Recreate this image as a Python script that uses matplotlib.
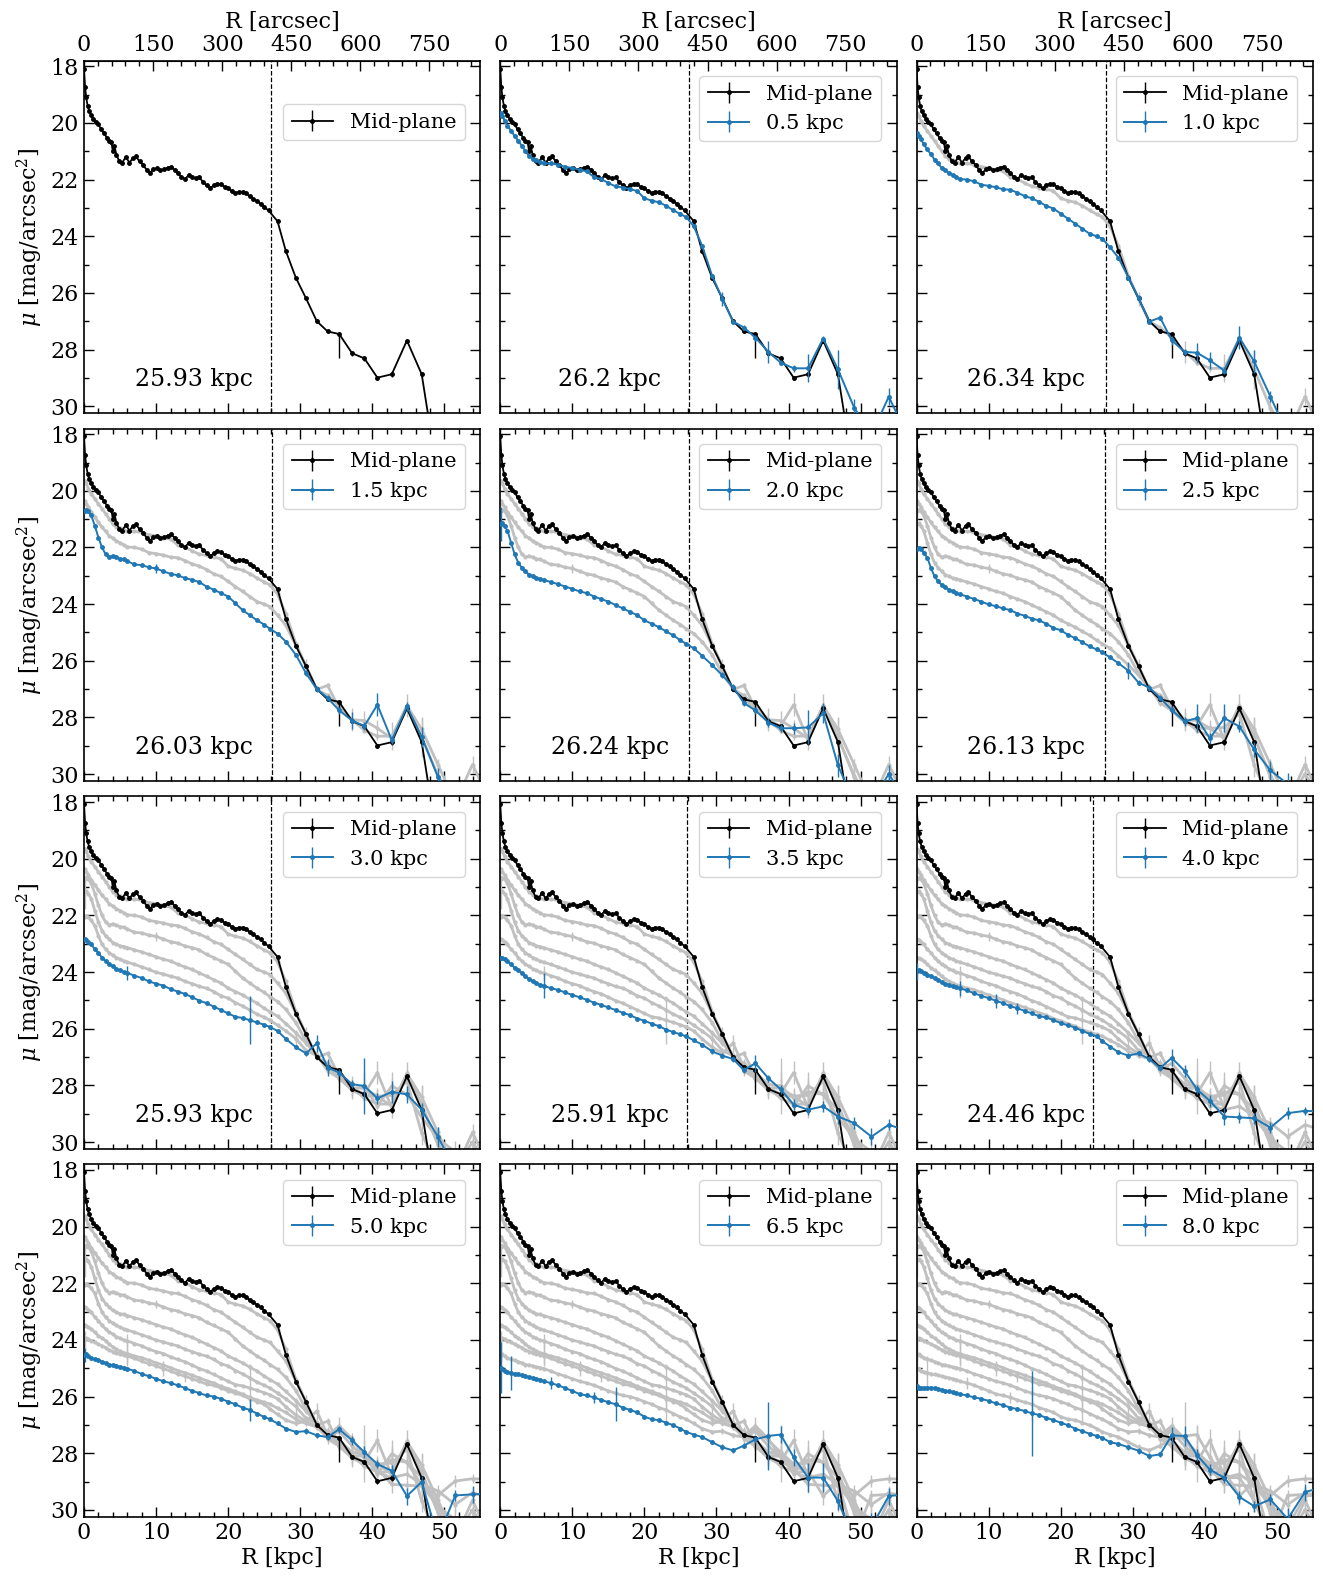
import numpy as np
import matplotlib
matplotlib.use("Agg")
import matplotlib.pyplot as plt
from matplotlib.ticker import MultipleLocator

plt.rcParams['font.family'] = 'serif'
plt.rcParams['font.serif'] = ['DejaVu Serif']
plt.rcParams['mathtext.fontset'] = 'dejavuserif'
plt.rcParams['xtick.direction'] = 'in'
plt.rcParams['ytick.direction'] = 'in'

KPC_PER_ARCSEC = 0.0639

# mid-plane profile (inner, densely sampled)
R_MID = [0.0, 0.15, 0.3, 0.5, 0.7, 1.0, 1.3, 1.6, 2.0, 2.4, 2.8, 3.2, 3.5, 3.8, 4.0,
         4.2, 4.5, 4.9, 5.3, 5.8, 6.3, 6.8, 7.2, 7.7, 8.2, 8.7, 9.1, 9.6, 10.1, 10.6,
         11.1, 11.6, 12.1, 12.6, 13.0, 13.5, 14.0, 14.5, 15.0, 15.5, 16.0, 16.5, 17.0,
         17.5, 18.0, 18.5, 19.0, 19.5, 20.0, 20.5, 21.0, 21.5, 22.0, 22.5, 23.0, 23.5,
         24.0, 24.5, 25.0, 25.6]
MU_MID = [18.08, 18.74, 19.1, 19.39, 19.57, 19.73, 19.87, 19.97, 20.05, 20.23, 20.37,
          20.53, 20.65, 20.68, 21.0, 20.8, 21.12, 21.36, 21.4, 21.2, 21.4, 21.24, 21.18,
          21.36, 21.48, 21.66, 21.78, 21.64, 21.6, 21.66, 21.64, 21.58, 21.54, 21.66,
          21.78, 21.9, 21.99, 21.84, 21.92, 21.96, 21.92, 22.08, 22.2, 22.31, 22.2, 22.14,
          22.16, 22.26, 22.31, 22.4, 22.47, 22.43, 22.43, 22.49, 22.59, 22.67, 22.76,
          22.85, 22.97, 23.09]

# outer radii (shared by all profiles)
R_OUT = [26.85, 28.0, 29.4, 30.8, 32.3, 33.8, 35.4, 37.2, 38.9, 40.7, 42.7, 44.8,
         46.85, 49.1, 51.5, 53.9, 56.4]
MU_MID_OUT = [23.47, 24.52, 25.47, 26.19, 27.0, 27.36, 27.45, 28.13, 28.31, 28.99,
              28.87, 27.68, 28.87, 32.5, np.nan, np.nan, np.nan]
ERR_MID_UP = [0.03, 0.03, 0.03, 0.05, 0.05, 0.05, 0.85, 0.08, 0.08, 0.1, 0.1, 0.1,
              0.1, 0.1, 0.1, 0.1, 0.1]

# inner radii for the off-plane profiles
R_IN = [0.1, 0.3, 0.6, 1, 1.5, 2, 2.5, 3, 3.5, 4, 4.5, 5, 5.5, 6, 7, 8, 9, 10, 11, 12,
        13, 14, 15, 16, 17, 18, 19, 20, 21, 22, 23, 24, 25, 25.8]

HEIGHTS = ["0.5", "1.0", "1.5", "2.0", "2.5", "3.0", "3.5", "4.0", "5.0", "6.5", "8.0"]

MU_05 = [19.64, 19.74, 19.92, 20.1, 20.28, 20.46, 20.63, 20.81, 20.99, 21.17, 21.27, 21.31,
         21.38, 21.43, 21.43, 21.47, 21.55, 21.59, 21.65, 21.71, 21.91, 21.98, 22.12, 22.24,
         22.28, 22.34, 22.4, 22.66, 22.74, 22.8, 22.92, 23.08, 23.22, 23.32,
         23.65, 24.33, 25.4, 26.2, 27.01, 27.22, 27.58, 28.08, 28.46, 28.66, 28.66, 27.61,
         28.7, 30.05, 31.0, 29.66, 31.0]
MU_10 = [20.36, 20.46, 20.57, 20.75, 20.93, 21.11, 21.29, 21.43, 21.59, 21.67, 21.77, 21.83,
         21.91, 21.98, 22.0, 22.06, 22.18, 22.22, 22.27, 22.34, 22.36, 22.46, 22.58, 22.66,
         22.78, 22.93, 23.02, 23.2, 23.38, 23.55, 23.73, 23.91, 24.0, 24.09,
         24.39, 24.75, 25.46, 26.18, 27.01, 26.87, 27.67, 28.08, 28.11, 28.38, 28.74, 27.58,
         28.42, 29.66, 31.0, 31.0, 31.0]
MU_15 = [20.72, 20.67, 20.72, 20.87, 21.23, 21.65, 22.0, 22.24, 22.34, 22.3, 22.34, 22.4,
         22.42, 22.48, 22.6, 22.62, 22.7, 22.74, 22.84, 22.93, 22.98, 23.08, 23.14, 23.22,
         23.38, 23.49, 23.61, 23.73, 23.97, 24.21, 24.39, 24.57, 24.72, 24.87,
         25.04, 25.32, 25.79, 26.44, 27.0, 27.31, 27.75, 28.11, 28.3, 27.55, 28.8, 27.61,
         28.68, 30.1, 31.0, 31.0, 31.0]
MU_20 = [21.17, 21.15, 21.23, 21.41, 21.83, 22.24, 22.54, 22.72, 22.84, 22.96, 23.02, 23.08,
         23.1, 23.14, 23.22, 23.29, 23.38, 23.46, 23.55, 23.61, 23.73, 23.82, 23.91, 24.03,
         24.15, 24.27, 24.39, 24.57, 24.69, 24.81, 24.96, 25.1, 25.28, 25.4,
         25.56, 25.82, 26.15, 26.51, 26.92, 27.49, 27.75, 28.18, 28.38, 28.38, 28.35, 27.85,
         29.69, 31.0, 31.0, 29.99, 31.0]
MU_25 = [22.06, 22.03, 22.06, 22.18, 22.36, 22.72, 23.02, 23.2, 23.32, 23.41, 23.49, 23.55,
         23.61, 23.65, 23.73, 23.82, 23.91, 24.01, 24.07, 24.15, 24.21, 24.33, 24.41, 24.51,
         24.57, 24.69, 24.84, 24.92, 25.08, 25.2, 25.34, 25.49, 25.6, 25.7,
         25.88, 26.08, 26.35, 26.77, 26.95, 27.31, 27.73, 28.14, 28.02, 28.74, 28.02, 28.32,
         29.13, 29.87, 30.35, 31.0, 31.0]
MU_30 = [22.84, 22.86, 22.93, 23.02, 23.2, 23.32, 23.49, 23.61, 23.73, 23.79, 23.89, 23.94,
         24.01, 24.03, 24.13, 24.21, 24.33, 24.41, 24.48, 24.6, 24.69, 24.77, 24.89, 25.01,
         25.1, 25.22, 25.34, 25.46, 25.58, 25.62, 25.7, 25.78, 25.86, 25.94,
         26.08, 26.36, 26.65, 26.87, 26.51, 27.37, 27.55, 27.96, 28.02, 28.46, 28.23, 28.32,
         28.86, 29.81, 31.0, 31.0, 31.0]
MU_35 = [23.49, 23.52, 23.55, 23.61, 23.73, 23.85, 23.94, 24.03, 24.15, 24.25, 24.33, 24.39,
         24.45, 24.48, 24.57, 24.63, 24.72, 24.81, 24.89, 24.98, 25.08, 25.16, 25.25, 25.34,
         25.44, 25.52, 25.64, 25.72, 25.82, 25.91, 26.03, 26.12, 26.2, 26.27,
         26.41, 26.56, 26.8, 26.95, 27.07, 27.46, 27.22, 27.75, 28.14, 28.68, 28.86, 28.74,
         29.1, 29.33, 29.81, 29.39, 29.6]
MU_40 = [23.97, 23.94, 23.97, 24.03, 24.09, 24.15, 24.21, 24.27, 24.36, 24.41, 24.45, 24.51,
         24.53, 24.57, 24.65, 24.75, 24.84, 24.92, 25.01, 25.1, 25.2, 25.28, 25.37, 25.46,
         25.56, 25.6, 25.7, 25.8, 25.88, 25.96, 26.08, 26.18, 26.27, 26.44,
         26.63, 26.83, 26.95, 26.87, 27.07, 27.39, 27.03, 27.49, 28.14, 28.55, 29.1, 29.13,
         29.16, 29.49, 28.98, 28.9, 28.92]
MU_50 = [24.53, 24.51, 24.57, 24.63, 24.69, 24.72, 24.77, 24.81, 24.87, 24.89, 24.92, 24.96,
         24.98, 25.01, 25.1, 25.2, 25.28, 25.37, 25.46, 25.52, 25.6, 25.7, 25.8, 25.88,
         25.96, 26.0, 26.08, 26.18, 26.27, 26.39, 26.47, 26.6, 26.72, 26.8,
         26.95, 27.13, 27.25, 27.22, 27.37, 27.43, 27.15, 27.55, 27.96, 28.38, 28.62, 29.51,
         29.01, 31.0, 29.49, 29.45, 29.42]
MU_65 = [24.98, 25.04, 25.1, 25.13, 25.16, 25.2, 25.22, 25.25, 25.28, 25.32, 25.34, 25.37,
         25.4, 25.46, 25.52, 25.6, 25.7, 25.8, 25.91, 25.96, 26.03, 26.12, 26.2, 26.27,
         26.39, 26.47, 26.56, 26.71, 26.8, 26.83, 26.92, 27.01, 27.13, 27.25,
         27.34, 27.43, 27.61, 27.79, 27.9, 27.73, 27.51, 27.39, 27.34, 28.14, 28.86, 28.86,
         29.69, 31.0, 30.6, 29.51, 29.45]
MU_80 = [25.64, 25.68, 25.7, 25.7, 25.68, 25.68, 25.7, 25.72, 25.76, 25.8, 25.82, 25.84,
         25.88, 25.91, 25.96, 26.03, 26.08, 26.15, 26.24, 26.3, 26.39, 26.44, 26.51, 26.59,
         26.65, 26.75, 26.83, 26.92, 27.01, 27.13, 27.22, 27.31, 27.39, 27.46,
         27.61, 27.67, 27.79, 27.91, 28.1, 28.04, 27.37, 27.39, 28.06, 28.58, 28.86, 29.54,
         29.87, 29.63, 30.32, 29.37, 29.2]

# error bars on the outer radii
ERR_OUT = [
    [0.05, 0.05, 0.08, 0.25, 0.05, 0.08, 0.1, 0.4, 0.1, 0.12, 0.5, 0.1, 0.7, 0.3, 0.5, 0.3, 0.5],
    [0.05, 0.05, 0.08, 0.1, 0.1, 0.1, 0.15, 0.1, 0.35, 0.3, 0.12, 0.4, 0.4, 0.2, 0.5, 0.5, 0.5],
    [0.05, 0.05, 0.08, 0.1, 0.1, 0.1, 0.12, 0.3, 0.15, 0.4, 0.15, 0.15, 0.35, 0.3, 0.5, 0.5, 0.5],
    [0.05, 0.05, 0.08, 0.1, 0.1, 0.1, 0.12, 0.15, 0.15, 0.2, 0.6, 0.35, 0.4, 0.5, 0.5, 0.3, 0.5],
    [0.05, 0.05, 0.3, 0.1, 0.1, 0.1, 0.12, 0.15, 0.5, 0.2, 0.5, 0.2, 0.25, 0.35, 0.4, 0.5, 0.5],
    [0.05, 0.05, 0.08, 0.1, 0.3, 0.3, 0.12, 0.15, 1.0, 0.2, 0.4, 0.3, 0.25, 0.35, 0.5, 0.5, 0.5],
    [0.05, 0.05, 0.08, 0.1, 0.1, 0.1, 0.3, 0.12, 0.15, 0.2, 0.2, 0.2, 0.25, 0.2, 0.3, 0.2, 0.3],
    [0.05, 0.05, 0.08, 0.1, 0.1, 0.1, 0.3, 0.2, 0.15, 0.2, 0.3, 0.2, 0.2, 0.2, 0.2, 0.15, 0.2],
    [0.05, 0.05, 0.08, 0.1, 0.1, 0.1, 0.12, 0.15, 0.2, 0.15, 0.2, 0.3, 0.2, 0.5, 0.2, 0.3, 0.3],
    [0.05, 0.05, 0.08, 0.1, 0.1, 0.1, 0.12, 1.2, 0.3, 0.3, 0.5, 0.5, 0.3, 0.5, 0.5, 0.3, 0.3],
    [0.05, 0.05, 0.08, 0.1, 0.1, 0.1, 0.3, 0.35, 0.2, 0.2, 0.2, 0.2, 0.2, 0.2, 0.4, 0.3, 0.3],
]
# a few noisy inner points (radius, error)
INNER_ERR = {
    "1.5": [(10, 0.15)],
    "2.0": [(0.1, 0.6)],
    "3.0": [(6, 0.25), (23, 0.85)],
    "3.5": [(6, 0.45)],
    "4.0": [(0.1, 0.3), (6, 0.27), (11, 0.25), (14, 0.2)],
    "5.0": [(0.1, 0.25), (23, 0.4)],
    "6.5": [(0.1, 0.9), (1.5, 0.6), (7, 0.2), (13, 0.2), (16, 0.6)],
    "8.0": [(16, 1.5)],
}

# break radius per panel (first panel = mid-plane only)
BREAKS = [25.93, 26.2, 26.34, 26.03, 26.24, 26.13, 25.93, 25.91, 24.46, None, None, None]

PROFILES = [MU_05, MU_10, MU_15, MU_20, MU_25, MU_30, MU_35, MU_40, MU_50, MU_65, MU_80]
R_PROF = np.array(R_IN + R_OUT)


def profile_err(i):
    err = np.full(len(R_PROF), 0.02)
    err[len(R_IN):] = ERR_OUT[i]
    for r, e in INNER_ERR.get(HEIGHTS[i], []):
        err[R_IN.index(r)] = e
    return err


r_mid = np.array(R_MID + R_OUT)
mu_mid = np.array(MU_MID + MU_MID_OUT)
err_mid_up = np.array([0.02] * len(R_MID) + ERR_MID_UP)
err_mid = [np.full(len(r_mid), 0.02), err_mid_up]

blue = '#1f77b4'
gray = '#c0c0c0'

fig, axes = plt.subplots(4, 3, figsize=(13.23, 15.83), dpi=100, sharex=True, sharey=True)
fig.subplots_adjust(left=0.0635, right=0.9924, top=0.9617, bottom=0.0417,
                    wspace=0.05, hspace=0.043)

for k, ax in enumerate(axes.flat):
    # previous heights in gray
    for j in range(k - 1):
        ax.errorbar(R_PROF, PROFILES[j], yerr=profile_err(j), color=gray, lw=2.0,
                    marker='.', ms=4, elinewidth=1.0, capsize=0, zorder=2)
    h_mid = ax.errorbar(r_mid, mu_mid, yerr=err_mid, color='k', lw=1.3, marker='.',
                        ms=5, elinewidth=1.0, capsize=0, zorder=3, label='Mid-plane')
    handles = [h_mid]
    if k >= 1:
        h = ax.errorbar(R_PROF, PROFILES[k - 1], yerr=profile_err(k - 1), color=blue,
                        lw=1.4, marker='.', ms=5, elinewidth=1.0, capsize=0, zorder=4,
                        label=HEIGHTS[k - 1] + ' kpc')
        handles.append(h)

    if BREAKS[k] is not None:
        ax.axvline(BREAKS[k], color='k', ls='--', lw=0.9, zorder=1)
        ax.text(15.2, 29.05, f"{BREAKS[k]} kpc", ha='center', va='center', fontsize=17)

    if k == 0:
        ax.legend(handles=handles, loc='upper right', bbox_to_anchor=(1, 0.92),
                  fontsize=15, edgecolor='0.8', borderaxespad=0.75)
    else:
        ax.legend(handles=handles, loc='upper right', fontsize=15, edgecolor='0.8',
                  borderaxespad=0.75)

    ax.set_xlim(0, 55)
    ax.set_ylim(30.25, 17.8)
    ax.xaxis.set_major_locator(MultipleLocator(10))
    ax.xaxis.set_minor_locator(MultipleLocator(2))
    ax.yaxis.set_major_locator(MultipleLocator(2))
    ax.yaxis.set_minor_locator(MultipleLocator(1))
    ax.tick_params(which='both', top=(k >= 3), right=True, labelsize=16, width=1.0)
    ax.tick_params(which='major', length=7)
    ax.tick_params(which='minor', length=3.5)
    for s in ax.spines.values():
        s.set_linewidth(1.2)

    if k % 3 == 0:
        ax.set_ylabel(r'$\mu$ [mag/arcsec$^2$]', fontsize=16)
    if k >= 9:
        ax.set_xlabel('R [kpc]', fontsize=16, labelpad=2)
    if k < 3:
        sec = ax.secondary_xaxis('top', functions=(lambda r: r / KPC_PER_ARCSEC,
                                                   lambda a: a * KPC_PER_ARCSEC))
        sec.set_xticks([0, 150, 300, 450, 600, 750])
        sec.xaxis.set_minor_locator(MultipleLocator(30))
        sec.tick_params(which='both', direction='in', labelsize=16, width=1.0)
        sec.tick_params(which='major', length=7)
        sec.tick_params(which='minor', length=3.5)
        sec.set_xlabel('R [arcsec]', fontsize=16, labelpad=4)

fig.savefig('out.png', dpi=100)
